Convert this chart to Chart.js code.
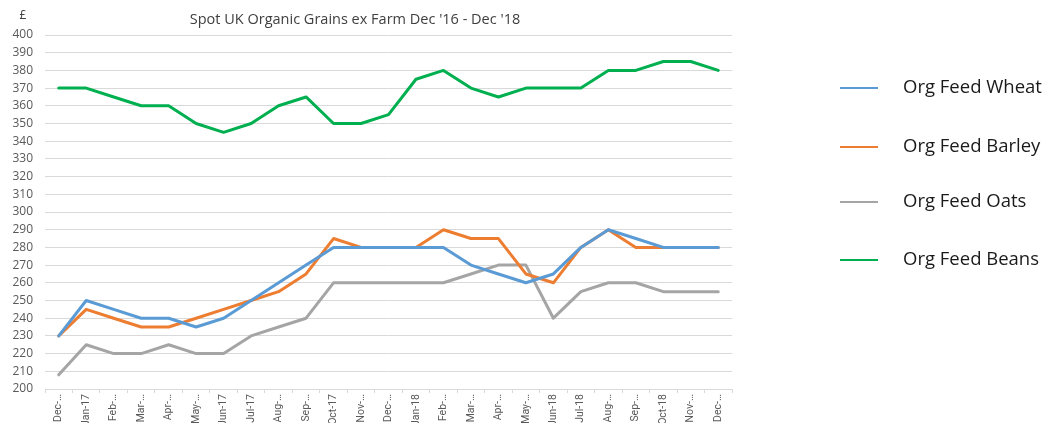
<!DOCTYPE html>
<html>
<head>
<meta charset="utf-8">
<script src="https://cdn.jsdelivr.net/npm/chart.js@4.4.1/dist/chart.umd.min.js"></script>
<style>
    html, body { margin: 0; padding: 0; background: #fff; overflow: hidden; }
    #wrap { width: 1046px; height: 423px; position: relative; }
</style>
</head>
<body>
<div id="wrap"><canvas id="grainsChart"></canvas></div>
<script>

const months = [
    "Dec-…", "Jan-17", "Feb-…", "Mar-…", "Apr-…", "May-…", "Jun-17", "Jul-17",
    "Aug-…", "Sep-…", "Oct-17", "Nov-…", "Dec-…", "Jan-18", "Feb-…", "Mar-…",
    "Apr-…", "May-…", "Jun-18", "Jul-18", "Aug-…", "Sep-…", "Oct-18", "Nov-…", "Dec-…"
];

const wheat  = [230, 250, 245, 240, 240, 235, 240, 250, 260, 270, 280, 280, 280, 280, 280, 270, 265, 260, 265, 280, 290, 285, 280, 280, 280];
const barley = [230, 245, 240, 235, 235, 240, 245, 250, 255, 265, 285, 280, 280, 280, 290, 285, 285, 265, 260, 280, 290, 280, 280, 280, 280];
const oats   = [208, 225, 220, 220, 225, 220, 220, 230, 235, 240, 260, 260, 260, 260, 260, 265, 270, 270, 240, 255, 260, 260, 255, 255, 255];
const beans  = [370, 370, 365, 360, 360, 350, 345, 350, 360, 365, 350, 350, 355, 375, 380, 370, 365, 370, 370, 370, 380, 380, 385, 385, 380];

const yTicks = { min: 200, max: 400, step: 10 };

const chartTitle = "Spot UK Organic Grains ex Farm Dec '16 - Dec '18";
const unitLabel = "£";

const FONT = "'Open Sans', sans-serif";

// title, £ and the legend on the right, drawn by hand to sit like the original
const extras = {
    id: "extras",
    afterDraw(chart) {
        const ctx = chart.ctx;
        ctx.save();
        ctx.fillStyle = "#404040";
        ctx.textBaseline = "middle";
        ctx.textAlign = "center";
        ctx.font = "14.5px " + FONT;
        ctx.fillText(chartTitle, 355, 20);
        ctx.font = "12px " + FONT;
        ctx.fillText(unitLabel, 23, 16);

        const rows = [88, 147, 202, 260];
        chart.data.datasets.forEach((ds, i) => {
            const y = rows[i];
            ctx.strokeStyle = ds.borderColor;
            ctx.lineWidth = 2;
            ctx.beginPath();
            ctx.moveTo(840, y);
            ctx.lineTo(878, y);
            ctx.stroke();
            ctx.fillStyle = "#1a1a1a";
            ctx.textAlign = "left";
            ctx.font = "18.5px " + FONT;
            ctx.fillText(ds.label, 903, y);
        });
        ctx.restore();
    }
};

function line(label, data, color) {
    return {
        label,
        data,
        borderColor: color,
        backgroundColor: color,
        borderWidth: 3,
        pointRadius: 0,
        tension: 0,
        borderJoinStyle: "round",
        borderCapStyle: "round"
    };
}

new Chart(document.querySelector("#grainsChart"), {
    type: "line",
    data: {
        labels: months,
        datasets: [
            line("Org Feed Wheat", wheat, "#5B9BD5"),
            line("Org Feed Barley", barley, "#ED7D31"),
            line("Org Feed Oats", oats, "#A5A5A5"),
            line("Org Feed Beans", beans, "#00B050")
        ]
    },
    options: {
        responsive: true,
        maintainAspectRatio: false,
        animation: false,
        layout: { padding: { top: 35, right: 314, left: 0, bottom: 0 } },
        plugins: {
            legend: { display: false },
            tooltip: { enabled: false }
        },
        scales: {
            x: {
                offset: true,
                afterFit: s => { s.height = 34; },
                grid: {
                    offset: true,
                    drawOnChartArea: false,
                    drawTicks: true,
                    tickLength: 4,
                    color: "#D9D9D9"
                },
                border: { display: true, color: "#D9D9D9" },
                ticks: {
                    autoSkip: false,
                    maxRotation: 90,
                    minRotation: 90,
                    padding: 1,
                    color: "#595959",
                    font: { family: "Roboto, sans-serif", size: 10.5 }
                }
            },
            y: {
                min: yTicks.min,
                max: yTicks.max,
                afterFit: s => { s.width = 45; },
                grid: { color: "#D9D9D9", drawTicks: false },
                border: { display: false },
                ticks: {
                    stepSize: yTicks.step,
                    padding: 12,
                    color: "#595959",
                    font: { family: FONT, size: 12 }
                }
            }
        }
    },
    plugins: [extras]
});
</script>
</body>
</html>
